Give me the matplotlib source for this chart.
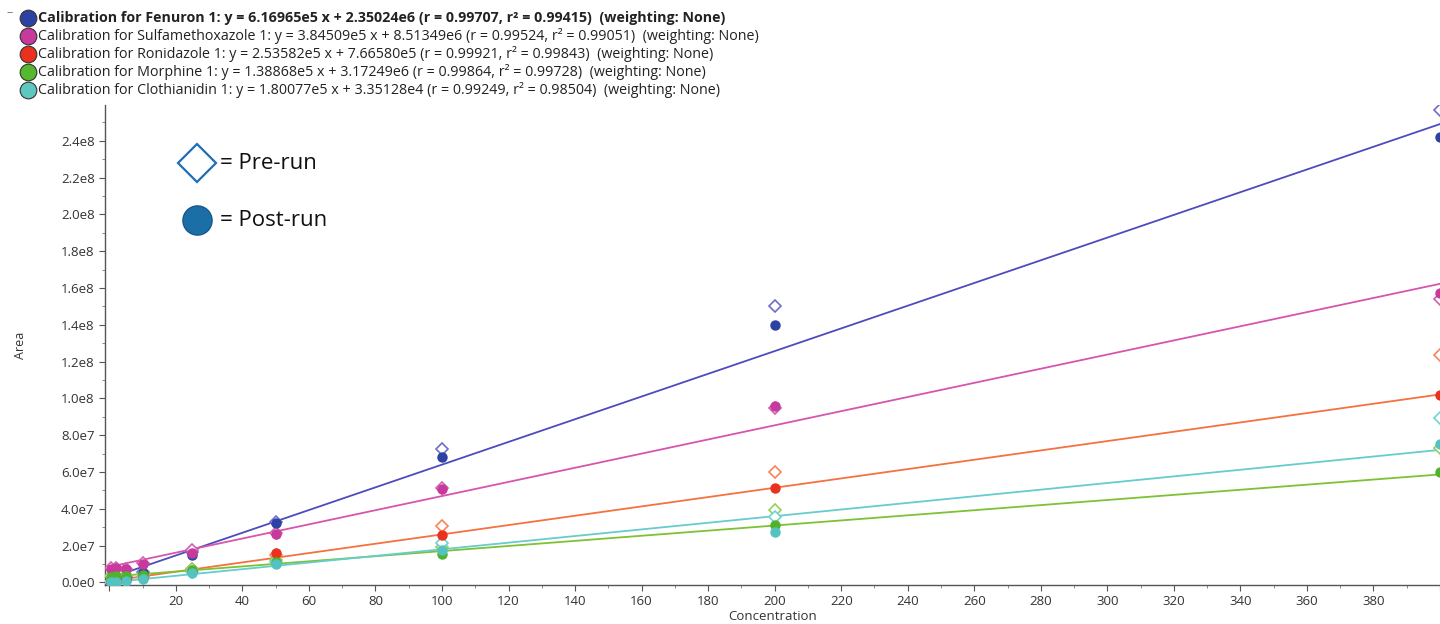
import numpy as np
import matplotlib
matplotlib.use("Agg")
import matplotlib.pyplot as plt
from matplotlib.lines import Line2D
from matplotlib.ticker import MultipleLocator, FuncFormatter

# Calibration levels
conc = [0.5, 2, 5, 10, 25, 50, 100, 200, 400]

compounds = ['Fenuron', 'Sulfamethoxazole', 'Ronidazole', 'Morphine', 'Clothianidin']
slopes = [6.16965e5, 3.84509e5, 2.53582e5, 1.38868e5, 1.80077e5]
intercepts = [2.35024e6, 8.51349e6, 7.66580e5, 3.17249e6, 3.35128e4]
r_vals = [0.99707, 0.99524, 0.99921, 0.99864, 0.99249]
r2_vals = [0.99415, 0.99051, 0.99843, 0.99728, 0.98504]
slope_txt = ['6.16965e5', '3.84509e5', '2.53582e5', '1.38868e5', '1.80077e5']
intercept_txt = ['2.35024e6', '8.51349e6', '7.66580e5', '3.17249e6', '3.35128e4']

# Peak areas before and after the run
fenuron_pre = [0.4e6, 1.2e6, 2.8e6, 5.8e6, 1.68e7, 3.3e7, 7.23e7, 1.503e8, 2.57e8]
fenuron_post = [0.3e6, 1.0e6, 2.5e6, 5.2e6, 1.5e7, 3.25e7, 6.8e7, 1.40e8, 2.42e8]
sulfa_pre = [7.6e6, 7.9e6, 7.4e6, 1.08e7, 1.75e7, 2.7e7, 5.15e7, 9.47e7, 1.54e8]
sulfa_post = [7.2e6, 7.6e6, 7.2e6, 1.02e7, 1.6e7, 2.65e7, 5.1e7, 9.58e7, 1.575e8]
ronid_pre = [2e5, 6e5, 1.4e6, 2.9e6, 7.2e6, 1.5e7, 3.08e7, 5.98e7, 1.238e8]
ronid_post = [1.5e5, 5e5, 1.2e6, 2.6e6, 6.5e6, 1.6e7, 2.6e7, 5.16e7, 1.018e8]
morph_pre = [3.3e6, 3.5e6, 3.9e6, 4.8e6, 7.2e6, 1.2e7, 1.95e7, 3.96e7, 7.3e7]
morph_post = [3.0e6, 3.3e6, 3.6e6, 4.3e6, 6.6e6, 1.14e7, 1.56e7, 3.14e7, 5.98e7]
cloth_pre = [2e5, 5e5, 1.2e6, 2.4e6, 5.5e6, 1.1e7, 2.14e7, 3.58e7, 8.95e7]
cloth_post = [1e5, 4e5, 1.0e6, 2.0e6, 5.0e6, 1.0e7, 1.74e7, 2.77e7, 7.5e7]

pre_runs = [fenuron_pre, sulfa_pre, ronid_pre, morph_pre, cloth_pre]
post_runs = [fenuron_post, sulfa_post, ronid_post, morph_post, cloth_post]

line_colors = ['#4c4cbc', '#d655ad', '#f5713f', '#7cc233', '#66cccc']
point_colors = ['#2c42a2', '#c8399c', '#e8321e', '#4fb22c', '#55c2c2']
diamond_colors = ['#6e6ecc', '#d060b0', '#f8845e', '#92d15a', '#72d2d2']
legend_colors = ['#2c42a2', '#c8399c', '#e8321e', '#55b82e', '#5cc8c0']

plt.rcParams['font.family'] = ['Open Sans', 'DejaVu Sans']

fig = plt.figure(figsize=(14.4, 6.24), dpi=100)
ax = fig.add_axes([105 / 1440, 39 / 624, 1335 / 1440, 480 / 624])

xs = np.array([-2, 400])
for i in range(len(compounds)):
    ax.plot(xs, slopes[i] * xs + intercepts[i], color=line_colors[i], lw=1.3, zorder=2)
for i in range(len(compounds)):
    ax.plot(conc, pre_runs[i], ls='none', marker='D', ms=6.5, mfc='white',
            mec=diamond_colors[i], mew=1.2, zorder=3)
    ax.plot(conc, post_runs[i], ls='none', marker='o', ms=6.5,
            color=point_colors[i], zorder=4)

ax.set_xlim(-1.3, 400)
ax.set_ylim(-1.37e6, 2.595e8)
ax.xaxis.set_major_locator(MultipleLocator(20))
ax.xaxis.set_minor_locator(MultipleLocator(10))
ax.yaxis.set_major_locator(MultipleLocator(2e7))
ax.yaxis.set_minor_locator(MultipleLocator(1e7))


def sci_fmt(v, pos):
    if abs(v) < 1:
        return '0.0e0'
    exp = int(np.floor(np.log10(abs(v))))
    return f"{v / 10 ** exp:.1f}e{exp}"


ax.yaxis.set_major_formatter(FuncFormatter(sci_fmt))
ax.xaxis.set_major_formatter(FuncFormatter(lambda v, p: '' if v <= 0 or v >= 400 else f"{v:.0f}"))

for s in ['top', 'right']:
    ax.spines[s].set_visible(False)
for s in ['left', 'bottom']:
    ax.spines[s].set_color('#555555')
    ax.spines[s].set_linewidth(1.0)
ax.tick_params(which='major', length=4, color='#555555', labelsize=9.5, labelcolor='#333333')
ax.tick_params(which='minor', length=2, color='#777777')
ax.set_xlabel('Concentration', fontsize=9.5, color='#333333', labelpad=1)
ax.set_ylabel('Area', fontsize=9, color='#333333', labelpad=24)

# Marker key
ax.plot([0.069], [0.879], transform=ax.transAxes, marker='D', ms=19, mfc='white',
        mec='#1f6fb8', mew=1.6, clip_on=False)
ax.text(0.086, 0.879, '= Pre-run', transform=ax.transAxes, fontsize=16,
        va='center', color='#111111')
ax.plot([0.069], [0.760], transform=ax.transAxes, marker='o', ms=21,
        color='#1b6fa6', mec='#16598a', clip_on=False)
ax.text(0.086, 0.760, '= Post-run', transform=ax.transAxes, fontsize=16,
        va='center', color='#111111')

# Calibration header above the plot
for i in range(len(compounds)):
    y = 1 - (18 + 18 * i) / 624
    fig.add_artist(Line2D([28 / 1440], [y], transform=fig.transFigure, marker='o',
                          ms=12, color=legend_colors[i], mec='#333333', mew=0.8))
    label = (f"Calibration for {compounds[i]} 1: y = {slope_txt[i]} x + {intercept_txt[i]} "
             f"(r = {r_vals[i]:.5f}, r² = {r2_vals[i]:.5f})  (weighting: None)")
    fig.text(38 / 1440, y, label, fontsize=10.3, va='center', color='#222222',
             fontweight='bold' if i == 0 else 'normal')
fig.text(10 / 1440, 1 - 13 / 624, '−', fontsize=8, va='center', ha='center', color='#666666')

fig.savefig('out.png', dpi=100)
